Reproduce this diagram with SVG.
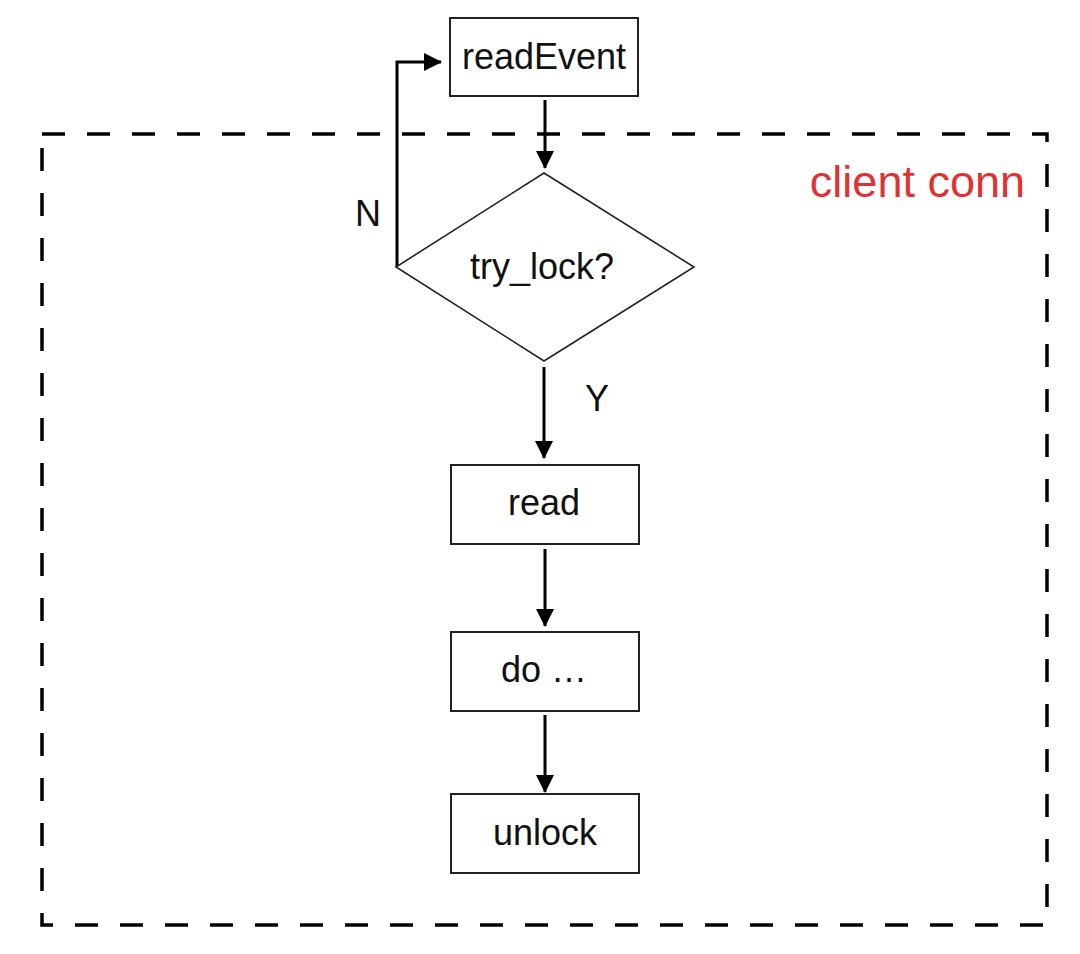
<svg xmlns="http://www.w3.org/2000/svg" width="1080" height="954" viewBox="0 0 1080 954">
  <style>
    .box { fill: #ffffff; stroke: #222222; stroke-width: 2; }
    .dia { fill: #ffffff; stroke: #222222; stroke-width: 1.6; }
    .lbl { font-family: "Liberation Sans", Arial, sans-serif; font-size: 36px; fill: #111111; }
    .edge { fill: none; stroke: #000000; stroke-width: 3; }
    .frame { fill: none; stroke: #000000; stroke-width: 3.5; stroke-dasharray: 23 22; }
  </style>
  <defs>
    <marker id="arrow" markerUnits="userSpaceOnUse" markerWidth="18" markerHeight="18" viewBox="0 0 18 18" refX="17" refY="9" orient="auto">
      <path d="M0,0 L18,9 L0,18 Z" fill="#000000"/>
    </marker>
  </defs>
  <rect width="1080" height="954" fill="#ffffff"/>

  <g id="frame">
    <rect class="frame" x="42" y="134" width="1005" height="791"/>
    <text x="1025" y="197" text-anchor="end" font-family="Liberation Sans, Arial, sans-serif" font-size="45" fill="#e03232">client conn</text>
  </g>

  <g id="connectors">
    <line class="edge" x1="545" y1="100" x2="545" y2="168" marker-end="url(#arrow)"/>
    <polyline class="edge" points="397,267 397,62 441,62" marker-end="url(#arrow)"/>
    <line class="edge" x1="544" y1="367" x2="544" y2="458" marker-end="url(#arrow)"/>
    <line class="edge" x1="545" y1="549" x2="545" y2="626" marker-end="url(#arrow)"/>
    <line class="edge" x1="545" y1="715" x2="545" y2="792" marker-end="url(#arrow)"/>
    <text class="lbl" x="368" y="226" text-anchor="middle">N</text>
    <text class="lbl" x="597" y="411" text-anchor="middle">Y</text>
  </g>

  <g id="readEvent">
    <rect class="box" x="450" y="18" width="188" height="78"/>
    <text class="lbl" x="544" y="69" text-anchor="middle">readEvent</text>
  </g>

  <g id="try_lock">
    <polygon class="dia" points="544,173 694,267 544,361 396,267"/>
    <text class="lbl" x="542" y="279" text-anchor="middle" font-size="33">try_lock?</text>
  </g>

  <g id="read">
    <rect class="box" x="451" y="465" width="188" height="79"/>
    <text class="lbl" x="544" y="515" text-anchor="middle">read</text>
  </g>

  <g id="do">
    <rect class="box" x="451" y="632" width="188" height="79"/>
    <text class="lbl" x="544" y="682" text-anchor="middle">do …</text>
  </g>

  <g id="unlock">
    <rect class="box" x="451" y="794" width="188" height="79"/>
    <text class="lbl" x="545" y="845" text-anchor="middle">unlock</text>
  </g>
</svg>
